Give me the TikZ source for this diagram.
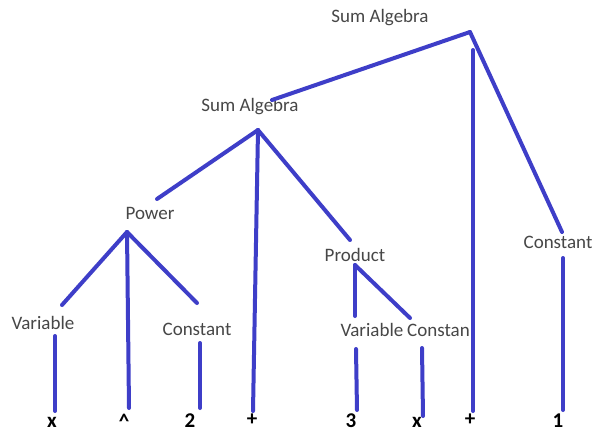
\documentclass[tikz,border=0pt]{standalone}
\usepackage{fontspec}
\setmainfont{Carlito}
\begin{document}
\begin{tikzpicture}[x=1pt,y=-1pt,
  lbl/.style={text=black!72, font=\fontsize{19}{22}\selectfont, inner sep=0pt},
  tok/.style={text=black, font=\bfseries\fontsize{21}{24}\selectfont, inner sep=0pt, anchor=base},
  edge/.style={draw={rgb,255:red,62;green,62;blue,200}, line width=4pt, line cap=round}]
\useasboundingbox[fill=white] (0,0) rectangle (595,432);
% labels
\node[lbl] (sum1) at (380,18) {Sum Algebra};
\node[lbl] (sum2) at (250,107) {Sum Algebra};
\node[lbl] (pow) at (150,213) {Power};
\node[lbl] (var1) at (43,323) {Variable};
\node[lbl] (con1) at (197,329) {Constant};
\node[lbl] (prod) at (355,255) {Product};
\node[lbl] (var2) at (372,330) {Variable};
\node[lbl,anchor=west] (con2) at (407,330) {Constan};
\node[lbl] (con3) at (558,242) {Constant};
% tokens
\node[tok] (t1) at (52,427) {x};
\node[tok] (t2) at (124,428) {\textasciicircum};
\node[tok] (t3) at (190,427) {2};
\node[tok] (t4) at (252,425) {+};
\node[tok] (t5) at (351,427) {3};
\node[tok] (t6) at (417,427) {x};
\node[tok] (t7) at (470,425) {+};
\node[tok] (t8) at (558,427) {1};
% line end points
\coordinate (a1) at (470,32);
\coordinate (a2) at (258,130);
\coordinate (a3) at (127,232);
\coordinate (a4) at (355,265);
\coordinate (s2top) at (272,100);
\coordinate (c3top) at (562,232);
\coordinate (v1top) at (473,50);
\coordinate (v1bot) at (473,411);
\coordinate (powtop) at (157,199);
\coordinate (plusbot) at (253,411);
\coordinate (prodtop) at (350,240);
\coordinate (var1top) at (62,305);
\coordinate (hatbot) at (129,408);
\coordinate (con1top) at (197,303);
\coordinate (x1top) at (55,336);
\coordinate (x1bot) at (55,411);
\coordinate (twotop) at (200,343);
\coordinate (twobot) at (200,408);
\coordinate (var2top) at (355,316);
\coordinate (con2top) at (410,318);
\coordinate (threetop) at (356,349);
\coordinate (threebot) at (357,410);
\coordinate (x2top) at (422,348);
\coordinate (x2bot) at (423,416);
\coordinate (onetop) at (563,258);
\coordinate (onebot) at (563,410);
% edges
\draw[edge] (a1) -- (s2top);
\draw[edge] (a1) -- (c3top);
\draw[edge] (v1top) -- (v1bot);
\draw[edge] (a2) -- (powtop);
\draw[edge] (a2) -- (plusbot);
\draw[edge] (a2) -- (prodtop);
\draw[edge] (a3) -- (var1top);
\draw[edge] (a3) -- (hatbot);
\draw[edge] (a3) -- (con1top);
\draw[edge] (x1top) -- (x1bot);
\draw[edge] (twotop) -- (twobot);
\draw[edge] (a4) -- (var2top);
\draw[edge] (a4) -- (con2top);
\draw[edge] (threetop) -- (threebot);
\draw[edge] (x2top) -- (x2bot);
\draw[edge] (onetop) -- (onebot);
\end{tikzpicture}
\end{document}
